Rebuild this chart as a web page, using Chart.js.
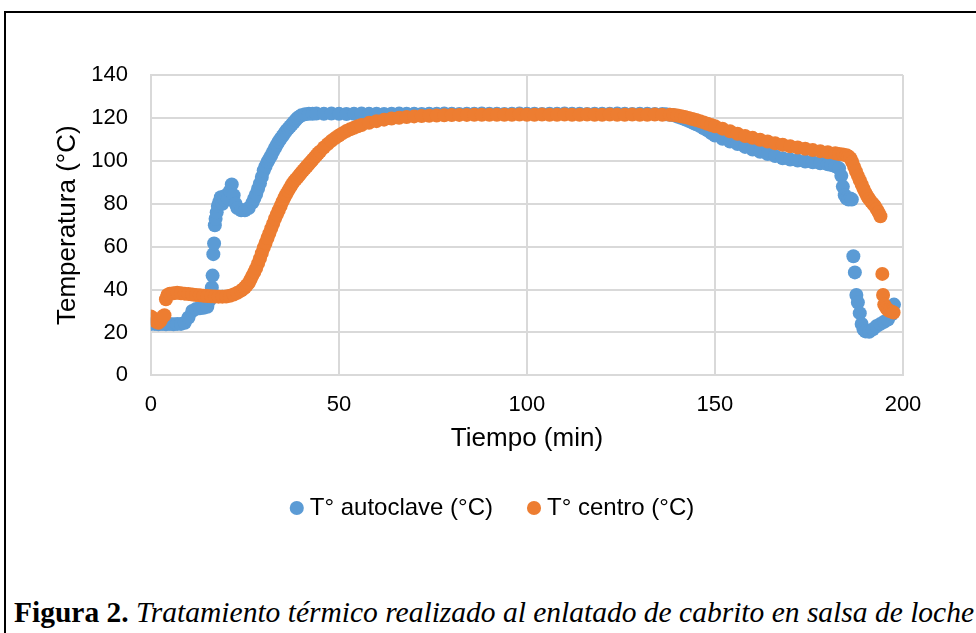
<!DOCTYPE html>
<html>
<head>
<meta charset="utf-8">
<script src="https://cdn.jsdelivr.net/npm/chart.js"></script>
<style>
body { margin:0; background:#fff; width:976px; height:633px; overflow:hidden; position:relative; }
#marco { position:absolute; left:4px; top:11px; width:1000px; height:700px; border:2px solid #000; }
#caja { position:absolute; left:0; top:0; width:976px; height:545px; }
#pie { position:absolute; left:14px; top:598px; font-family:'Liberation Serif','Times New Roman',serif; font-size:29.5px; line-height:29px; white-space:nowrap; color:#000; }
</style>
</head>
<body>
<div id="marco"></div>
<div id="caja"><canvas id="grafico"></canvas></div>
<div id="pie"><b>Figura 2.</b> <i>Tratamiento térmico realizado al enlatado de cabrito en salsa de loche</i></div>
<script>
// T° autoclave (°C)  -- 10 per row
var tiempoAutoclave = [
  0,1,2,3,4,5,6,7,8,9,
  10,11,12,13,14,15,15.6,16,16.2,16.4,
  16.6,16.8,17,17.2,17.5,17.8,18.2,18.6,19,19.5,
  20,20.5,21,21.5,22,22.5,23,24,25,26,
  27,27.5,28,28.5,29,29.5,30,30.5,31,31.5,
  32,32.5,33,33.5,34,34.5,35,35.5,36,36.5,
  37,37.5,38,38.5,39,39.5,40,41,42,43,
  44,46,48,50,52,54,56,58,60,62,
  64,66,68,70,72,74,76,78,80,82,
  84,86,88,90,92,94,96,98,100,102,
  104,106,108,110,112,114,116,118,120,122,
  124,126,128,130,132,134,136,137,138,139,
  140,141,142,143,144,145,146,147,148,149,
  150,152,154,156,158,160,162,164,166,168,
  170,172,174,176,178,180,181,182,183,183.6,
  184,184.5,185,185.5,186,186.4,186.8,187.2,187.6,188,
  188.5,189,189.5,190,191,192,193,194,195,196,
  197,197.6];
var tempAutoclave = [
  24,24,23.8,24,23.8,24,23.8,24,24,24.5,
  27,30,31,31.3,31.5,32,35,39,41,46.5,
  56.5,61.5,70,73,76,79,81,83,80,82,
  84,82.5,86,89,84,80,78,77,77,78,
  80.5,82.5,84.5,87,89.5,92.5,95.5,97.5,99.5,101,
  102.5,104.3,106,107.5,109,110.3,111.5,112.8,114,115,
  116,117,118,119,120,120.6,121.2,121.7,121.9,121.9,
  122,121.9,122,121.9,121.8,121.9,122,121.9,121.9,121.8,
  121.9,122,121.9,121.9,121.8,121.9,121.9,122,121.9,121.8,
  121.9,121.9,122,121.9,121.9,121.8,121.9,122,121.9,121.9,
  121.8,121.9,121.9,122,121.9,121.9,121.8,121.9,121.9,121.9,
  122,121.9,121.8,121.9,121.9,121.8,121.8,121.7,121.5,121.2,
  120.6,120,119.3,118.6,117.8,117,116.2,115.2,114.2,113,
  111.8,110.3,109,107.8,106.5,105.3,104.2,103.2,102.2,101.2,
  100.6,100.1,99.7,99.3,98.9,98.4,98,97.5,96.5,93,
  88,84,82.5,82,82.5,82,55.5,48,37.5,34,
  29,24,21.5,20.5,20.3,21.5,23,24,25,26,
  28.5,33];

// T° centro (°C)  -- 10 per row
var tiempoCentro = [
  0,0.7,1.4,2,2.6,3.2,3.6,4,4.4,5,
  6,7,8,9,10,11,12,13,14,15,
  16,17,18,19,20,21,22,23,24,24.5,
  25,25.5,26,26.5,27,27.5,28,28.5,29,29.5,
  30,30.5,31,31.5,32,32.5,33,33.5,34,34.5,
  35,35.5,36,36.5,37,37.5,38,38.5,39,39.5,
  40,40.5,41,41.5,42,42.5,43,43.5,44,44.5,
  45,46,47,48,49,50,51,52,53,54,
  55,56,58,60,62,64,66,68,70,72,
  74,76,78,80,82,84,86,88,90,92,
  94,96,98,100,102,104,106,108,110,112,
  114,116,118,120,122,124,126,128,130,132,
  134,136,138,139,140,141,142,143,144,145,
  146,147,148,149,150,152,154,156,158,160,
  162,164,166,168,170,172,174,176,178,180,
  182,183,184,185,185.5,186,186.5,187,187.5,188,
  188.5,189,189.5,190,190.5,191,191.5,192,192.5,193,
  193.5,194,194.5,194.7,195,195.5,196,196.5,197,197.5];
var tempCentro = [
  27.5,26.5,25,24.5,25.5,27.5,28,35.5,37.5,38,
  38.3,38.5,38.3,38.1,37.9,37.7,37.5,37.3,37.1,37,
  36.9,36.8,36.7,36.7,36.8,37.1,37.7,38.5,39.5,40.2,
  41,42,43,44.7,46.5,48.2,50,52.2,54.5,57,
  59.5,61.7,64,66.2,68.5,70.7,73,75,77,79,
  81,82.8,84.5,86,87.5,89,90.3,91.3,92.3,93.4,
  94.5,95.5,96.5,97.5,98.5,99.5,100.5,101.5,102.5,103.5,
  104.4,106.2,107.8,109.3,110.6,111.8,112.9,113.9,114.7,115.4,
  116.1,116.7,117.7,118.5,119.2,119.7,120.1,120.4,120.7,120.9,
  121,121.1,121.2,121.3,121.4,121.4,121.5,121.5,121.5,121.5,
  121.5,121.5,121.6,121.5,121.5,121.6,121.5,121.5,121.6,121.5,
  121.5,121.6,121.5,121.5,121.6,121.5,121.5,121.6,121.5,121.5,
  121.6,121.5,121.5,121.4,121.1,120.8,120.4,120,119.5,119,
  118.5,117.9,117.3,116.7,116.1,115,113.8,112.6,111.6,110.7,
  109.8,109,108.2,107.5,106.8,106.2,105.6,105,104.5,104,
  103.5,103.2,103,102.6,102,101.2,99.5,97.2,95,93,
  91,89,87,85.2,83.5,82.2,81,80,79,77.5,
  76,74.2,47.3,37.5,33,31.5,30.5,30,29.7,29.3];

var ejeY = [0, 20, 40, 60, 80, 100, 120, 140];
var ejeX = [0, 50, 100, 150, 200];

function puntos(xs, ys) {
  var out = [];
  for (var i = 0; i < xs.length; i++) out.push({x: xs[i], y: ys[i]});
  return out;
}

Chart.defaults.font.family = "'Liberation Sans', Arial, sans-serif";
Chart.defaults.color = '#000';

var ctx = document.getElementById('grafico');
new Chart(ctx, {
  type: 'scatter',
  data: {
    datasets: [
      { label: 'T° autoclave (°C)', data: puntos(tiempoAutoclave, tempAutoclave), backgroundColor: '#5B9BD5', borderWidth: 0, pointRadius: 7, pointHoverRadius: 7, order: 1 },
      { label: 'T° centro (°C)', data: puntos(tiempoCentro, tempCentro), backgroundColor: '#ED7D31', borderWidth: 0, pointRadius: 7, pointHoverRadius: 7, order: 0 }
    ]
  },
  options: {
    responsive: true,
    maintainAspectRatio: false,
    animation: false,
    layout: { padding: { top: 75, right: 0, bottom: 15, left: 14 } },
    scales: {
      x: {
        type: 'linear', min: 0, max: 200,
        afterBuildTicks: function(s) { s.ticks = ejeX.map(function(v){ return {value: v}; }); },
        grid: { color: '#d9d9d9', lineWidth: 2, drawTicks: false },
        border: { color: '#d9d9d9', width: 2 },
        ticks: { font: { size: 22 }, padding: 16 },
        title: { display: true, text: 'Tiempo (min)', font: { size: 26 }, padding: { top: -11, bottom: 2 } }
      },
      y: {
        min: 0, max: 140,
        afterBuildTicks: function(s) { s.ticks = ejeY.map(function(v){ return {value: v}; }); },
        grid: { color: '#d9d9d9', lineWidth: 2, drawTicks: false },
        border: { color: '#d9d9d9', width: 2 },
        ticks: { font: { size: 22 }, padding: 23 },
        title: { display: true, text: 'Temperatura (°C)', font: { size: 26 }, padding: { top: 38, bottom: -15 } }
      },
      y2: {
        position: 'right', min: 0, max: 140,
        grid: { display: false }, border: { display: false }, ticks: { display: false },
        afterFit: function(s) { s.width = 73; }
      }
    },
    plugins: {
      legend: {
        position: 'bottom',
        labels: {
          usePointStyle: true, pointStyle: 'circle', boxWidth: 2, boxHeight: 10, padding: 40,
          font: { size: 24 },
          sort: function(a, b) { return a.datasetIndex - b.datasetIndex; }
        }
      },
      tooltip: { enabled: false }
    }
  }
});
</script>
</body>
</html>
